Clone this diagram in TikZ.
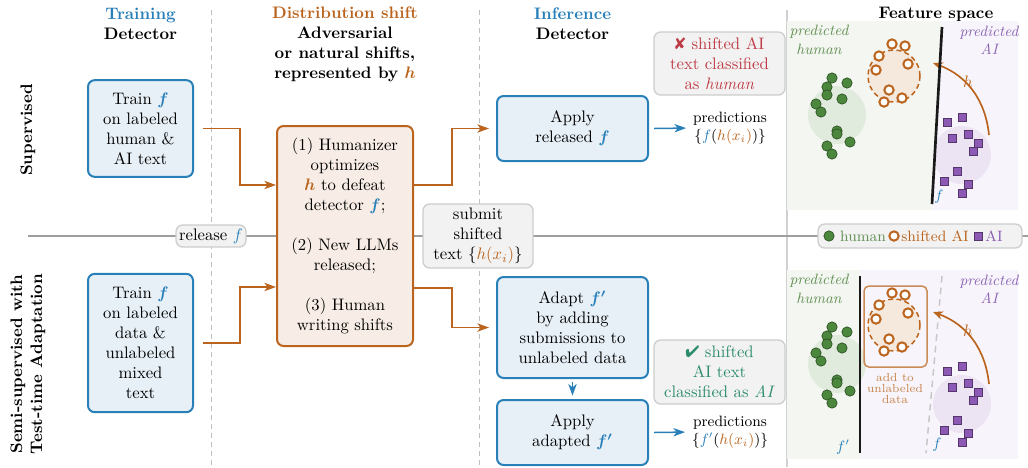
\documentclass[tikz,border=0pt]{standalone}
\usepackage{amsmath}
\usepackage{amssymb}
\usepackage{pifont}
\usepackage{xcolor}
\usetikzlibrary{arrows.meta}
\definecolor{detblue}{RGB}{41,128,185}
\definecolor{detfill}{RGB}{232,240,247}
\definecolor{shiftorange}{RGB}{186,100,30}
\definecolor{shiftfill}{RGB}{247,237,230}
\definecolor{notefill}{RGB}{242,242,242}
\definecolor{notedraw}{RGB}{205,205,205}
\definecolor{wrongred}{RGB}{190,60,70}
\definecolor{rightteal}{RGB}{45,140,110}
\definecolor{humangreen}{RGB}{75,135,60}
\definecolor{humanlabel}{RGB}{100,145,85}
\definecolor{aipurple}{RGB}{140,90,180}
\definecolor{ailabel}{RGB}{140,100,180}
\definecolor{humanbg}{RGB}{243,246,241}
\definecolor{aibg}{RGB}{247,245,251}
\newcommand{\fb}{\textcolor{detblue}{$\boldsymbol{f}$}}
\newcommand{\fpb}{\textcolor{detblue}{$\boldsymbol{f'}$}}
\newcommand{\hb}{\textcolor{shiftorange}{$\boldsymbol{h}$}}
\tikzset{detbox/.style={draw=detblue, fill=detfill, line width=1.2pt, rounded corners=4pt, align=center},
 shiftbox/.style={draw=shiftorange, fill=shiftfill, line width=1.2pt, rounded corners=4pt, align=center},
 notebox/.style={draw=notedraw, fill=notefill, line width=0.8pt, rounded corners=4pt, align=center, inner sep=2pt},
 header/.style={font=\bfseries, align=center},
 predtext/.style={font=\small, align=center, inner sep=1pt},
 shiftarrow/.style={draw=shiftorange, line width=0.9pt, -{Stealth[length=7pt,width=5pt,inset=2pt]}},
 detarrow/.style={draw=detblue, line width=0.9pt, -{Stealth[length=7pt,width=5pt,inset=2pt]}},
 sepline/.style={draw=black!25, line width=0.5pt, dash pattern=on 3pt off 2.4pt},
 panelline/.style={draw=black!18, line width=0.8pt},
 releaseline/.style={draw=black!38, line width=1pt},
 humandot/.style={circle, fill=humangreen, draw=humangreen!60!black, line width=0.4pt, inner sep=0pt, minimum size=6.2pt},
 shiftdot/.style={circle, fill=white, draw=shiftorange, line width=1.2pt, inner sep=0pt, minimum size=5.6pt},
 aisquare/.style={rectangle, fill=aipurple, draw=aipurple!60!black, line width=0.4pt, inner sep=0pt, minimum size=4.8pt},
 boundary/.style={draw=black!90, line width=1.6pt},
 oldboundary/.style={draw=black!22, line width=0.9pt, dash pattern=on 4pt off 3pt},
 hcurve/.style={draw=shiftorange, line width=1pt, -{Stealth[length=6pt,width=5pt,inset=2pt]}},
 flabel/.style={text=detblue, font=\small},
 addbox/.style={draw=shiftorange!75, line width=0.9pt, rounded corners=3pt},
 addtext/.style={text=shiftorange!80, font=\fontsize{7}{6.6}\selectfont, align=center}
}
\newcommand{\featurepoints}{%
  \fill[humangreen!17] (837,115) circle (17.4pt);
  \filldraw[fill=shiftorange!15, draw=shiftorange, line width=0.9pt, dash pattern=on 3pt off 2pt] (894,76) circle (15.6pt);
  \fill[aipurple!16] (962,155) circle (17.4pt);
  \foreach \xx/\yy in {832/78,847/83,827/87,827/95,842/99,816/104,821/112,837/131,837/134,850/142,827/146,832/154}
    \node[humandot] at (\xx,\yy) {};
  \foreach \xx/\yy in {892/44,905/46,879/56,908/64,876/70,889/90,884/102,902/98}
    \node[shiftdot] at (\xx,\yy) {};
  \foreach \xx/\yy in {947/122,962/117,952/138,968/134,978/143,973/151,957/171,944/181,968/184,962/193}
    \node[aisquare] at (\xx,\yy) {};
  \draw[hcurve] (989,135) to[bend right=32] (933,63);
  \node[text=shiftorange] at (968,82) {$h$};
  \node[text=humanlabel, font=\small\itshape, align=center] at (819,40) {predicted\\human};
  \node[text=ailabel, font=\small\itshape, align=center] at (989,40) {predicted\\AI};
}

\begin{document}
\begin{tikzpicture}[x=0.6pt,y=-0.6pt]
\useasboundingbox (0,0) rectangle (1028,467);

% column separators and release line
\draw[sepline] (211,10) -- (211,467);
\draw[sepline] (479,10) -- (479,467);
\draw[panelline] (787,10) -- (787,467);
\draw[releaseline] (28,236) -- (1028,236);

% headers
\node[header] (hTrain) at (140.5,24) {\textcolor{detblue}{Training}\\Detector};
\node[header] (hShift) at (345,44) {\textcolor{shiftorange}{Distribution shift}\\Adversarial\\or natural shifts,\\represented by \hb};
\node[header] (hInfer) at (572.5,24) {\textcolor{detblue}{Inference}\\Detector};
\node[header] (hFeat) at (936,14) {Feature space};
\node[header, rotate=90] (rowSup) at (28,130) {Supervised};
\node[header, rotate=90] (rowSemi) at (28,364) {Semi-supervised with\\Test-time Adaptation};

% training
\node[detbox, minimum width=63pt, minimum height=58pt] (trainA) at (140.5,128.5) {Train \fb\\on labeled\\human \&\\AI text};
\node[detbox, minimum width=63pt, minimum height=83pt] (trainB) at (140.5,343) {Train \fb\\on labeled\\data \&\\unlabeled\\mixed\\text};

% distribution shift
\node[shiftbox, minimum width=81.6pt, minimum height=132pt] (shift) at (345,236) {(1) Humanizer\\optimizes\\\hb{} to defeat\\detector \fb;\\[12pt](2) New LLMs\\released;\\[12pt](3) Human\\writing shifts};

% inference
\node[detbox, minimum width=90.6pt, minimum height=39pt] (applyA) at (572.5,128.5) {Apply\\released \fb};
\node[detbox, minimum width=90.6pt, minimum height=60.6pt] (adapt) at (572.5,327.5) {Adapt \fpb\\by adding\\submissions to\\unlabeled data};
\node[detbox, minimum width=90.6pt, minimum height=39pt] (applyB) at (572.5,432.5) {Apply\\adapted \fpb};
\node[predtext] (predA) at (730,128) {predictions\\$\{{\color{detblue}f}({\color{shiftorange}h(x_i)})\}$};
\node[predtext] (predB) at (730,432) {predictions\\$\{{\color{detblue}f'}({\color{shiftorange}h(x_i)})\}$};
\node[notebox, text=wrongred, minimum width=78.6pt, minimum height=37.8pt] (wrong) at (719.5,63.5) {\ding{56} shifted AI\\text classified\\as \textit{human}};
\node[notebox, text=rightteal, minimum width=78.6pt, minimum height=38.4pt] (right) at (719.5,372) {\ding{52} shifted\\AI text\\classified as \textit{AI}};

% on the release line
\node[notebox, minimum width=42pt, minimum height=13.2pt, inner sep=1pt] (release) at (211,236) {release \textcolor{detblue}{$f$}};
\node[notebox, minimum width=66pt, minimum height=38.4pt] (submit) at (478,236) {submit\\shifted\\text $\{{\color{shiftorange}h(x_i)}\}$};

% connectors
\draw[shiftarrow] ([xshift=5.4pt]trainA.east) -- ++(22.2pt,0) |- ([yshift=30.6pt]shift.west);
\draw[shiftarrow] ([xshift=5.4pt]trainB.east) -- ++(22.2pt,0) |- ([yshift=-30.6pt]shift.west);
\draw[shiftarrow] ([yshift=30.6pt]shift.east) -- ++(22.8pt,0) |- ([xshift=-4.2pt]applyA.west);
\draw[shiftarrow] ([yshift=-31.2pt]shift.east) -- ++(22.8pt,0) |- ([xshift=-4.2pt]adapt.west);
\draw[detarrow, shorten >=3pt] ([xshift=3pt]applyA.east) -- (predA.west);
\draw[detarrow, shorten >=3pt] ([xshift=3pt]applyB.east) -- (predB.west);
\draw[detarrow] ([yshift=-2pt]adapt.south) -- ([yshift=2pt]applyB.north);

% feature space, supervised
\fill[humanbg] (787,21) -- (942.3,21) -- (931.7,210) -- (787,210) -- cycle;
\fill[aibg] (942.3,21) -- (1018,21) -- (1018,210) -- (931.7,210) -- cycle;
\featurepoints
\draw[boundary] (942,27) -- (932,204);
\node[flabel] at (939,197) {$f$};

% feature space, test-time adaptation
\begin{scope}[shift={(0,249)}]
\fill[humanbg] (787,21) rectangle (860,210);
\fill[aibg] (860,21) rectangle (1018,210);
\draw[oldboundary] (942,27) -- (926,204);
\featurepoints
\draw[addbox] (864,37) rectangle (927,118);
\node[addtext] at (895,139) {add to\\unlabeled\\data};
\draw[boundary] (860,27) -- (860,204);
\node[flabel] at (843,198) {$f'$};
\node[flabel] at (937,196) {$f$};
\end{scope}

% legend
\node[notebox, minimum width=122.4pt, minimum height=14.4pt] (legend) at (920,236) {};
\node[humandot] (legHuman) at (829,236) {};
\node[text=humanlabel, font=\small] at (863,236) {human};
\node[shiftdot] (legShift) at (894,236) {};
\node[text=shiftorange, font=\small] at (935,236) {shifted AI};
\node[aisquare] (legAI) at (978,236) {};
\node[text=aipurple, font=\small] at (994,236) {AI};
\end{tikzpicture}
\end{document}
